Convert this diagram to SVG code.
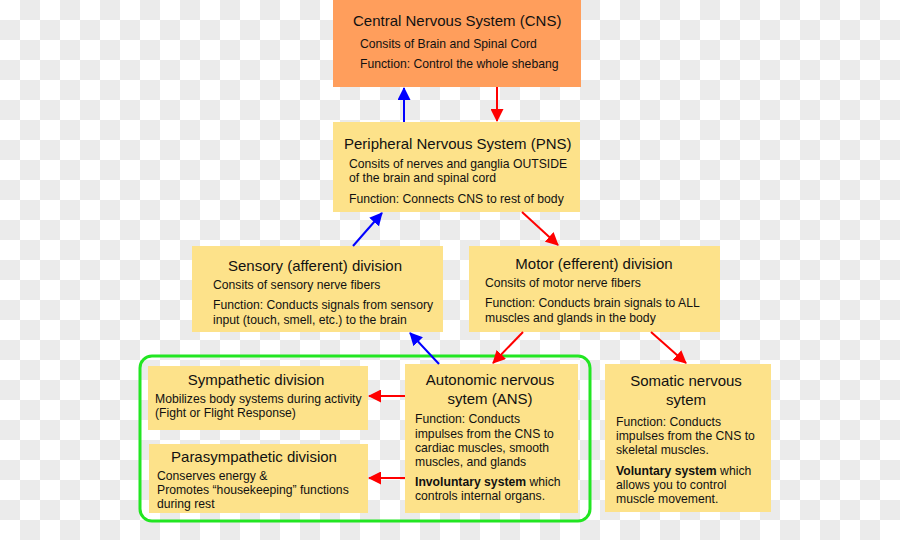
<svg xmlns="http://www.w3.org/2000/svg" width="900" height="540" viewBox="0 0 900 540">
<defs>
<pattern id="checker" x="0" y="0" width="40" height="40" patternUnits="userSpaceOnUse">
<rect width="40" height="40" fill="#ffffff"/>
<rect x="20" y="0" width="20" height="20" fill="#ebebeb"/>
<rect x="0" y="20" width="20" height="20" fill="#ebebeb"/>
</pattern>
<marker id="ab" markerWidth="13" markerHeight="13" viewBox="0 0 13 13" refX="12" refY="6.5" orient="auto" markerUnits="userSpaceOnUse"><path d="M0,0 L13,6.5 L0,13 z" fill="#0000ff"/></marker>
<marker id="ar" markerWidth="13" markerHeight="13" viewBox="0 0 13 13" refX="12" refY="6.5" orient="auto" markerUnits="userSpaceOnUse"><path d="M0,0 L13,6.5 L0,13 z" fill="#ff0000"/></marker>
<style>
text{font-family:"Liberation Sans",Arial,sans-serif;fill:#111;}
.t{font-size:15px;}
.b{font-size:12.2px;}
.c{text-anchor:middle;}
.box{fill:#fde28a;}
.blue{stroke:#0000ff;stroke-width:2;fill:none;marker-end:url(#ab);}
.red{stroke:#ff0000;stroke-width:2;fill:none;marker-end:url(#ar);}
</style>
</defs>
<rect width="900" height="540" fill="url(#checker)"/>

<g id="cns">
<rect x="333" y="0" width="248" height="87" fill="#ff9e5c"/>
<text class="t" x="353" y="26">Central Nervous System (CNS)</text>
<text class="b" x="360" y="48">Consits of Brain and Spinal Cord</text>
<text class="b" x="360" y="68">Function: Control the whole shebang</text>
</g>

<g id="pns">
<rect class="box" x="333" y="122" width="247" height="90"/>
<text class="t" x="344" y="149">Peripheral Nervous System (PNS)</text>
<text class="b" x="349" y="168">Consits of nerves and ganglia OUTSIDE</text>
<text class="b" x="349" y="182">of the brain and spinal cord</text>
<text class="b" x="349" y="203">Function: Connects CNS to rest of body</text>
</g>

<g id="sensory">
<rect class="box" x="192" y="246" width="251" height="86"/>
<text class="t c" x="315" y="271">Sensory (afferent) division</text>
<text class="b" x="213" y="289">Consits of sensory nerve fibers</text>
<text class="b" x="213" y="309">Function: Conducts signals from sensory</text>
<text class="b" x="213" y="324">input (touch, smell, etc.) to the brain</text>
</g>

<g id="motor">
<rect class="box" x="469" y="246" width="251" height="86"/>
<text class="t c" x="594" y="269">Motor (efferent) division</text>
<text class="b" x="485" y="287">Consits of motor nerve fibers</text>
<text class="b" x="485" y="307">Function: Conducts brain signals to ALL</text>
<text class="b" x="485" y="322">muscles and glands in the body</text>
</g>

<g id="ans-group">
<rect x="140" y="356" width="450" height="165" rx="12" ry="12" fill="none" stroke="#22e622" stroke-width="3"/>
</g>

<g id="sympathetic">
<rect class="box" x="148" y="366" width="220" height="64"/>
<text class="t c" x="256" y="385">Sympathetic division</text>
<text class="b" x="155" y="403">Mobilizes body systems during activity</text>
<text class="b" x="155" y="417">(Fight or Flight Response)</text>
</g>

<g id="parasympathetic">
<rect class="box" x="149" y="444" width="219" height="69"/>
<text class="t c" x="254" y="462">Parasympathetic division</text>
<text class="b" x="157" y="480">Conserves energy &amp;</text>
<text class="b" x="157" y="494">Promotes “housekeeping” functions</text>
<text class="b" x="157" y="508">during rest</text>
</g>

<g id="ans">
<rect class="box" x="405" y="364" width="173" height="149"/>
<text class="t c" x="490" y="385">Autonomic nervous</text>
<text class="t c" x="490" y="404">sytem (ANS)</text>
<text class="b" x="415" y="423">Function: Conducts</text>
<text class="b" x="415" y="438">impulses from the CNS to</text>
<text class="b" x="415" y="452">cardiac muscles, smooth</text>
<text class="b" x="415" y="466">muscles, and glands</text>
<text class="b" x="415" y="486"><tspan font-weight="bold">Involuntary system</tspan> which</text>
<text class="b" x="415" y="500">controls internal organs.</text>
</g>

<g id="somatic">
<rect class="box" x="605" y="364" width="166" height="148"/>
<text class="t c" x="686" y="386">Somatic nervous</text>
<text class="t c" x="686" y="405">sytem</text>
<text class="b" x="616" y="426">Function: Conducts</text>
<text class="b" x="616" y="440">impulses from the CNS to</text>
<text class="b" x="616" y="454">skeletal muscles.</text>
<text class="b" x="616" y="475"><tspan font-weight="bold">Voluntary system</tspan> which</text>
<text class="b" x="616" y="489">allows you to control</text>
<text class="b" x="616" y="503">muscle movement.</text>
</g>

<g id="connectors">
<line class="blue" x1="404" y1="122" x2="404" y2="88"/>
<line class="red" x1="497" y1="87" x2="497" y2="121"/>
<line class="blue" x1="353" y1="246" x2="382" y2="213"/>
<line class="red" x1="522" y1="212" x2="558" y2="245"/>
<line class="blue" x1="439" y1="364" x2="410" y2="333"/>
<line class="red" x1="523" y1="332" x2="493" y2="363"/>
<line class="red" x1="651" y1="332" x2="686" y2="363"/>
<line class="red" x1="405" y1="396" x2="369" y2="396"/>
<line class="red" x1="405" y1="478" x2="369" y2="478"/>
</g>
</svg>
